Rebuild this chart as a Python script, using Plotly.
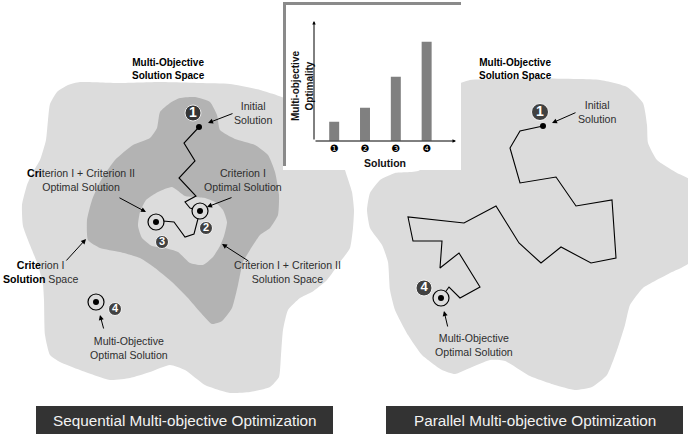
import plotly.graph_objects as go

# ---------------- inset bar chart data ----------------
solutions = [0, 1, 2, 3]
solution_labels = ["❶", "❷", "❸", "❹"]
optimality = [1.9, 3.3, 6.4, 9.9]

# ---------------- diagram outlines (sketch coordinates, px) ----------------
left_space_x = [50, 57, 68, 80, 120, 160, 200, 230, 260, 290, 320, 340, 345, 352, 354, 353, 350, 340, 327,
                312, 300, 288, 283, 281, 279, 270, 250, 230, 205, 185, 170, 150, 130, 110, 80, 60, 50,
                45, 44, 43, 38, 32, 23, 22, 27, 33, 40, 46, 48]
left_space_y = [104, 92, 85, 82, 83, 82, 83, 84, 90, 100, 120, 150, 170, 192, 210, 228, 248, 262, 280,
                292, 298, 310, 330, 355, 377, 387, 392, 393, 385, 370, 365, 372, 378, 380, 370, 362, 355,
                335, 300, 285, 265, 250, 226, 205, 185, 172, 160, 140, 120]

crit1_x = [170, 180, 195, 210, 217, 220, 235, 255, 268, 275, 279, 278, 270, 260, 250, 243, 238, 232, 222,
           212, 200, 188, 172, 155, 140, 120, 100, 88, 87, 92, 100, 115, 133, 150, 157, 160]
crit1_y = [103, 98, 97, 102, 115, 130, 139, 145, 155, 172, 195, 215, 228, 235, 250, 262, 285, 308, 321,
           324, 312, 298, 282, 268, 258, 252, 248, 240, 220, 200, 182, 160, 145, 138, 128, 112]

crit12_x = [140, 146, 158, 172, 185, 195, 205, 215, 223, 227, 224, 220, 213, 203, 190, 178, 165, 152, 142, 138]
crit12_y = [212, 200, 192, 187, 196, 197, 198, 202, 210, 222, 236, 246, 257, 265, 263, 252, 248, 246, 238, 226]

right_space_x = [440, 455, 470, 600, 627, 643, 647, 648, 657, 677, 690, 690, 670, 643, 630, 625, 617, 607,
                 592, 575, 555, 530, 505, 490, 470, 455, 442, 422, 408, 395, 390, 388, 382, 370, 367,
                 370, 380, 395, 420]
right_space_y = [110, 86, 80, 80, 87, 103, 125, 143, 160, 173, 180, 262, 273, 288, 305, 325, 350, 375,
                 387, 390, 385, 376, 361, 360, 368, 374, 370, 355, 335, 310, 290, 262, 245, 228, 210,
                 193, 180, 173, 170]

# optimisation paths
left_path_x = [199, 184, 195, 179, 196, 185, 190, 200, 194, 185, 174, 163, 156]
left_path_y = [127, 143, 161, 178, 196, 202, 208, 211, 234, 237, 222, 221, 222]
right_path_x = [543, 520, 510, 520, 556, 576, 612, 616, 591, 561, 541, 519, 496, 464, 408, 413, 442, 440,
                459, 480, 460, 449, 441]
right_path_y = [126, 131, 148, 183, 177, 206, 200, 258, 263, 247, 263, 243, 206, 223, 217, 241, 241, 268,
                253, 287, 298, 287, 298]

# solution markers
ring_x = [200, 156, 96, 441]
ring_y = [211, 222, 302, 298]
start_x = [199, 543]
start_y = [127, 126]
badge_x = [193, 206, 162, 115, 540, 424]
badge_y = [113, 228, 242, 309, 112, 288]
badge_text = ["1", "2", "3", "4", "1", "4"]
badge_size = [16, 13, 13, 13, 17, 16]
badge_font = [14, 11, 11, 11, 14, 13]

LIGHT = "#dcdcdc"
DARK = "#b3b3b3"
TXT = "#2e2e2e"
FONT = "Liberation Sans"

fig = go.Figure()


def area(xs, ys, color):
    fig.add_trace(go.Scatter(x=xs + xs[:1], y=ys + ys[:1], mode="lines", fill="toself",
                             fillcolor=color, line=dict(width=0, color=color, shape="spline", smoothing=0.5),
                             hoverinfo="skip", showlegend=False))


area(left_space_x, left_space_y, LIGHT)
area(crit1_x, crit1_y, DARK)
area(crit12_x, crit12_y, LIGHT)
area(right_space_x, right_space_y, LIGHT)

# inset panel background + frame
fig.add_trace(go.Scatter(x=[283, 461, 461, 283, 283], y=[2, 2, 170, 170, 2], mode="lines", fill="toself",
                         fillcolor="white", line=dict(width=0, color="white"), hoverinfo="skip",
                         showlegend=False))
fig.add_trace(go.Scatter(x=[284.5, 284.5, 461], y=[166, 3.5, 3.5], mode="lines",
                         line=dict(width=3, color="#8a8a8a"), hoverinfo="skip", showlegend=False))

# paths
for px, py in [(left_path_x, left_path_y), (right_path_x, right_path_y)]:
    fig.add_trace(go.Scatter(x=px, y=py, mode="lines", line=dict(width=1.1, color="black"),
                             hoverinfo="skip", showlegend=False))

# rings
fig.add_trace(go.Scatter(x=ring_x, y=ring_y, mode="markers",
                         marker=dict(size=16, color=LIGHT, line=dict(width=1.2, color="black")),
                         hoverinfo="skip", showlegend=False))
# dots
fig.add_trace(go.Scatter(x=ring_x + start_x, y=ring_y + start_y, mode="markers",
                         marker=dict(size=6, color="black"), hoverinfo="skip", showlegend=False))
# number badges
fig.add_trace(go.Scatter(x=badge_x, y=badge_y, mode="markers+text", text=[f"<b>{t}</b>" for t in badge_text],
                         textposition="middle center",
                         textfont=dict(color="white", size=badge_font, family="Liberation Sans"),
                         marker=dict(size=badge_size, color="black"), hoverinfo="skip", showlegend=False))

# inset bar chart
fig.add_trace(go.Bar(x=solutions, y=optimality, xaxis="x2", yaxis="y2", width=0.324,
                     marker=dict(color="#808080", line=dict(width=0)), hoverinfo="skip", showlegend=False))

ann = []


def label(x, y, text, size=10.6, color=TXT, family=FONT, angle=0):
    ann.append(dict(x=x, y=y, xref="x", yref="y", text=text, showarrow=False, xanchor="center",
                    yanchor="middle", textangle=angle, font=dict(size=size, color=color, family=family)))


def arrow(tx, ty, hx, hy, size=1.0, head=2):
    ann.append(dict(x=hx, y=hy, ax=tx, ay=ty, xref="x", yref="y", axref="x", ayref="y", text="",
                    showarrow=True, arrowhead=head, arrowsize=size, arrowwidth=1, arrowcolor="black"))


label(168, 69, "<b>Multi-Objective<br>Solution Space</b>", size=10, color="black")
label(515, 69, "<b>Multi-Objective<br>Solution Space</b>", size=10, color="black")
label(253, 113, "Initial<br>Solution")
label(597, 112, "Initial<br>Solution")
label(243, 180, "Criterion I<br>Optimal Solution")
label(81, 180, "<span style='color:black'><b>Cri</b></span>terion I + Criterion II<br>Optimal Solution")
label(287, 272, "Criterion I + Criterion II<br>Solution Space")
label(40, 272, "<span style='color:black'><b>Crite</b></span>rion I<br>"
               "<span style='color:black'><b>Solution</b></span> Space")
label(129, 348, "Multi-Objective<br>Optimal Solution")
label(474, 345, "Multi-Objective<br>Optimal Solution")
label(384.5, 163, "<b>Solution</b>", size=10.5, color="#111")
label(295, 86, "<b>Multi-objective</b>", size=10, color="#111", angle=-90)
label(308.5, 86, "<b>Optimality</b>", size=10, color="#111", angle=-90)

arrow(234, 113, 208, 123)
arrow(577, 112, 552, 123)
arrow(233, 197, 207, 207)
arrow(118, 197, 146, 212)
arrow(250, 262, 222, 244)
arrow(65, 262, 86, 239)
arrow(104, 330, 100, 315)
arrow(448, 328, 444, 311)
arrow(314, 141, 456, 141, size=0.7)
arrow(314, 141, 314, 21, size=0.7)

# bottom captions
label(184.5, 420, "Sequential Multi-objective Optimization", size=15.3, color="#f2f2f2")
label(534.5, 420, "Parallel Multi-objective Optimization", size=15.3, color="#f2f2f2")
shapes = [
    dict(type="rect", xref="x", yref="y", x0=36, x1=333, y0=406, y1=434, fillcolor="#333333",
         line=dict(width=0), layer="below"),
    dict(type="rect", xref="x", yref="y", x0=386, x1=683, y0=406, y1=434, fillcolor="#333333",
         line=dict(width=0), layer="below"),
]

fig.update_layout(
    width=688, height=436, margin=dict(l=0, r=0, t=0, b=0),
    paper_bgcolor="white", plot_bgcolor="rgba(0,0,0,0)",
    xaxis=dict(range=[0, 688], visible=False, domain=[0, 1], fixedrange=True),
    yaxis=dict(range=[436, 0], visible=False, domain=[0, 1], fixedrange=True),
    xaxis2=dict(domain=[314.3 / 688, 455 / 688], anchor="y2", range=[-0.645, 3.92], fixedrange=True,
                tickvals=solutions, ticktext=solution_labels, ticks="", showgrid=False, zeroline=False,
                showline=False, tickfont=dict(size=10, color="black", family="DejaVu Sans")),
    yaxis2=dict(domain=[1 - 140.7 / 436, 1 - 21.7 / 436], anchor="x2", range=[0, 11.9], fixedrange=True,
                showticklabels=False, showgrid=False, zeroline=False, showline=False, ticks=""),
    annotations=ann, shapes=shapes, showlegend=False, hovermode=False,
)

fig.write_html("out.html", config={"displayModeBar": False, "staticPlot": True},
               post_script="document.body.style.margin='0px';")
